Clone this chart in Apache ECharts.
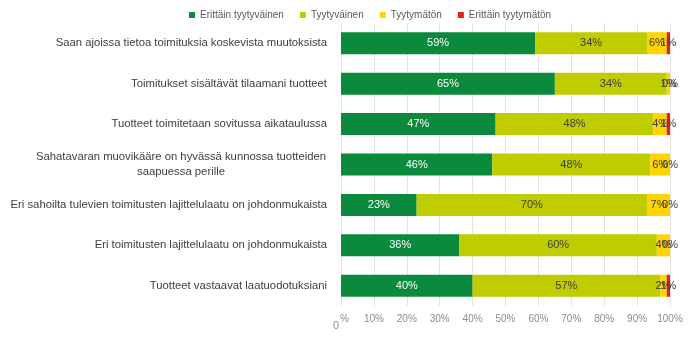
<!DOCTYPE html>
<html><head><meta charset="utf-8">
<script src="https://cdn.jsdelivr.net/npm/echarts@6/dist/echarts.min.js"></script>
<style>html,body{margin:0;padding:0;background:#fff}#c{width:700px;height:339px}</style>
</head><body><div id="c"></div>
<script>
const categories = [
  "Saan ajoissa tietoa toimituksia koskevista muutoksista",
  "Toimitukset sisältävät tilaamani tuotteet",
  "Tuotteet toimitetaan sovitussa aikataulussa",
  "Sahatavaran muovikääre on hyvässä kunnossa tuotteiden\nsaapuessa perille",
  "Eri sahoilta tulevien toimitusten lajittelulaatu on johdonmukaista",
  "Eri toimitusten lajittelulaatu on johdonmukaista",
  "Tuotteet vastaavat laatuodotuksiani"
];
const seriesNames = ["Erittäin tyytyväinen", "Tyytyväinen", "Tyytymätön", "Erittäin tyytymätön"];
const verySatisfied = [59, 65, 47, 46, 23, 36, 40];
const satisfied = [34, 34, 48, 48, 70, 60, 57];
const dissatisfied = [6, 1, 4, 6, 7, 4, 2];
const veryDissatisfied = [1, 0, 1, 0, 0, 0, 1];
const xTicks = [0, 10, 20, 30, 40, 50, 60, 70, 80, 90, 100];

const colors = ["#0b8a3e", "#bfcc00", "#ffd400", "#e3211b"];
const labelColors = ["#ffffff", "#404040", "#404040", "#404040"];
const allData = [verySatisfied, satisfied, dissatisfied, veryDissatisfied];
const FONT = 'Liberation Sans, Arial';

const cats = categories.slice().reverse();
const chart = echarts.init(document.getElementById('c'));
chart.setOption({
  animation: false,
  color: colors,
  legend: {
    top: 5, left: 184,
    itemWidth: 6, itemHeight: 6, itemGap: 16,
    icon: 'rect',
    textStyle: { fontFamily: FONT, fontSize: 10, color: '#595959' },
    data: seriesNames
  },
  grid: { left: 341, right: 30, top: 23, bottom: 33, containLabel: false },
  xAxis: {
    type: 'value', min: 0, max: 100, interval: 10,
    axisLine: { show: false },
    axisTick: { show: false },
    splitLine: { lineStyle: { color: '#e4e4e4' } },
    axisLabel: {
      margin: 8,
      color: '#8c8c8c', fontFamily: FONT, fontSize: 10,
      formatter: v => v === 0 ? '{z|0}{p|%}' : v + '%',
      rich: {
        z: { color: '#8c8c8c', fontSize: 11, padding: [6, 1, 0, 0], fontFamily: FONT },
        p: { color: '#8c8c8c', fontSize: 10, verticalAlign: 'top', fontFamily: FONT }
      }
    }
  },
  yAxis: {
    type: 'category', data: cats,
    axisLine: { show: false }, axisTick: { show: false },
    axisLabel: {
      margin: 14,
      color: '#404040', fontFamily: FONT, fontSize: 11.3, lineHeight: 15,
      formatter: v => v.indexOf('\n') >= 0 ? v.split('\n').map(s => '{c|' + s + '}').join('\n') : v,
      rich: { c: { width: 292, align: 'center', color: '#404040', fontFamily: FONT, fontSize: 11.3, lineHeight: 15 } }
    }
  },
  series: seriesNames.map((n, i) => ({
    name: n, type: 'bar', stack: 'total', barWidth: 22,
    data: allData[i].slice().reverse(),
    itemStyle: { color: colors[i] },
    label: {
      show: true, position: 'inside',
      formatter: p => p.value + '%',
      color: labelColors[i], fontFamily: FONT, fontSize: 11
    }
  }))
});
</script></body></html>
